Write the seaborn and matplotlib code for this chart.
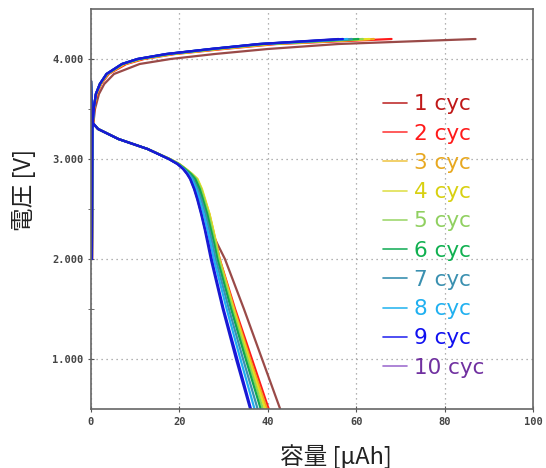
import matplotlib
matplotlib.use("Agg")
import matplotlib.pyplot as plt
from matplotlib.lines import Line2D
import seaborn as sns
import pandas as pd

# cycle labels and colours (line colour / legend text colour)
cycles = ["1 cyc", "2 cyc", "3 cyc", "4 cyc", "5 cyc", "6 cyc", "7 cyc", "8 cyc", "9 cyc", "10 cyc"]
line_colors = ["#9a4a48", "#ff1a1a", "#f0a820", "#e6e020", "#90d850", "#10a850",
               "#3a90b0", "#20b0f0", "#1414e8", "#1a1ad0"]
text_colors = ["#c01818", "#ff1a1a", "#e8a820", "#d8d010", "#90d060", "#10b050",
               "#3a90b0", "#20b0f0", "#1010f0", "#7030a0"]
legend_line_colors = ["#c03030", "#ff4040", "#f0c850", "#e0e050", "#a0d870", "#20b060",
                      "#3a90b0", "#30b8f0", "#3030f0", "#a070d0"]

# charge curves: voltage levels and capacity reached per cycle [uAh]
charge_volt = [2.0, 3.3, 3.5, 3.65, 3.75, 3.85, 3.95, 4.0, 4.05, 4.1, 4.15, 4.2]
charge_cap = [
    [0.3, 0.4, 0.9, 1.8, 3.0, 5.2, 11.0, 18.0, 28.0, 40.0, 56.0, 87.0],
    [0.2, 0.35, 0.7, 1.3, 2.3, 4.0, 8.0, 12.0, 19.0, 30.0, 42.0, 68.0],
    [0.2, 0.3, 0.65, 1.2, 2.2, 3.8, 7.6, 11.5, 18.5, 29.0, 41.0, 64.0],
    [0.2, 0.3, 0.65, 1.2, 2.1, 3.7, 7.4, 11.2, 18.2, 28.5, 40.0, 63.0],
    [0.2, 0.3, 0.6, 1.15, 2.1, 3.6, 7.2, 11.0, 18.0, 28.0, 39.5, 61.5],
    [0.2, 0.3, 0.6, 1.1, 2.0, 3.6, 7.1, 10.8, 17.6, 27.6, 39.0, 60.5],
    [0.2, 0.3, 0.6, 1.1, 2.0, 3.5, 7.0, 10.6, 17.3, 27.3, 38.5, 59.0],
    [0.2, 0.3, 0.6, 1.1, 2.0, 3.5, 7.0, 10.5, 17.1, 27.1, 38.2, 58.0],
    [0.2, 0.3, 0.6, 1.1, 2.0, 3.5, 7.0, 10.5, 17.0, 27.0, 38.0, 57.0],
    [0.2, 0.3, 0.6, 1.1, 2.0, 3.5, 7.0, 10.5, 17.0, 27.0, 38.0, 56.0],
]

# discharge curves: voltage levels and capacity per cycle [uAh]
discharge_volt = [3.78, 3.37, 3.3, 3.2, 3.1, 3.0, 2.95, 2.9, 2.85, 2.8, 2.7,
                  2.6, 2.45, 2.3, 2.15, 2.0, 1.5, 1.0, 0.5]
discharge_cap = [
    [0.0, 0.2, 1.6, 6.2, 12.8, 17.7, 19.8, 21.2, 22.4, 23.5, 24.5, 25.2, 26.2, 27.0, 28.6, 30.3, 34.6, 38.7, 42.8],
    [0.0, 0.2, 1.6, 6.2, 12.8, 17.8, 19.9, 21.4, 22.7, 23.9, 24.9, 25.6, 26.7, 27.5, 28.3, 29.1, 32.6, 36.4, 40.2],
    [0.0, 0.2, 1.6, 6.2, 12.8, 17.8, 19.9, 21.4, 22.8, 24.0, 25.0, 25.7, 26.8, 27.6, 28.4, 29.1, 32.4, 36.0, 39.8],
    [0.0, 0.2, 1.6, 6.2, 12.8, 17.8, 20.0, 21.5, 22.9, 24.1, 25.1, 25.8, 26.8, 27.6, 28.3, 29.0, 32.2, 35.7, 39.4],
    [0.0, 0.2, 1.6, 6.2, 12.8, 17.8, 19.9, 21.4, 22.8, 23.9, 24.9, 25.6, 26.6, 27.4, 28.2, 28.9, 32.0, 35.4, 38.9],
    [0.0, 0.2, 1.6, 6.2, 12.8, 17.7, 19.8, 21.3, 22.6, 23.6, 24.6, 25.3, 26.3, 27.1, 27.9, 28.6, 31.7, 35.0, 38.4],
    [0.0, 0.2, 1.6, 6.2, 12.8, 17.7, 19.7, 21.1, 22.2, 23.1, 24.1, 24.9, 25.9, 26.7, 27.5, 28.2, 31.2, 34.4, 37.7],
    [0.0, 0.2, 1.6, 6.2, 12.8, 17.6, 19.6, 21.0, 22.0, 22.8, 23.8, 24.5, 25.5, 26.3, 27.1, 27.8, 30.7, 33.8, 37.0],
    [0.0, 0.2, 1.6, 6.2, 12.8, 17.6, 19.6, 20.9, 21.8, 22.5, 23.4, 24.1, 25.0, 25.8, 26.6, 27.3, 30.0, 33.1, 36.2],
    [0.0, 0.2, 1.6, 6.2, 12.8, 17.6, 19.5, 20.8, 21.7, 22.4, 23.3, 24.0, 24.9, 25.7, 26.4, 27.1, 29.8, 32.8, 36.0],
]

x_ticks = [0, 20, 40, 60, 80, 100]
y_ticks = [1.0, 2.0, 3.0, 4.0]

rows = []
for i, cyc in enumerate(cycles):
    for c, v in zip(charge_cap[i], charge_volt):
        rows.append((cyc, "charge", c, v))
    for c, v in zip(discharge_cap[i], discharge_volt):
        rows.append((cyc, "discharge", c, v))
df = pd.DataFrame(rows, columns=["cycle", "step", "cap", "volt"])

sns.set_style("white")
plt.rcParams["font.family"] = ["Noto Sans CJK JP", "DejaVu Sans"]

fig = plt.figure(figsize=(5.46, 4.68), dpi=100)
ax = fig.add_axes([91 / 546, 59 / 468, 442 / 546, 400 / 468])

# later cycles drawn on top
for i in range(len(cycles)):
    sub = df[df["cycle"] == cycles[i]]
    sns.lineplot(data=sub, x="cap", y="volt", units="step", estimator=None, sort=False,
                 color=line_colors[i], lw=1.6, ax=ax, legend=False)

ax.set_xlim(0, 100)
ax.set_ylim(0.5, 4.5)
ax.set_xticks(x_ticks)
ax.set_xticklabels([str(t) for t in x_ticks])
ax.set_yticks(y_ticks)
ax.set_yticklabels([f"{t:.3f}" for t in y_ticks])
ax.set_yticks([1.5, 2.5, 3.5], minor=True)
ax.grid(True, which="major", ls=(0, (1, 3)), color="#999999", lw=0.9)
ax.tick_params(axis="both", which="both", direction="inout", length=4, color="#555555",
               labelsize=7.5, labelcolor="#444444", left=True, bottom=True)
for lab in ax.get_xticklabels() + ax.get_yticklabels():
    lab.set_family("DejaVu Sans Mono")
    lab.set_weight("bold")
for sp in ax.spines.values():
    sp.set_color("#666666")
    sp.set_linewidth(1.2)

ax.set_xlabel("容量 [μAh]", fontsize=17, color="#222222")
ax.set_ylabel("電圧 [V]", fontsize=17, color="#222222")
ax.xaxis.set_label_coords(0.555, -0.088)
ax.yaxis.set_label_coords(-0.125, 0.548)

handles = [Line2D([0], [0], color=legend_line_colors[i], lw=1.2) for i in range(len(cycles))]
leg = ax.legend(handles, cycles, loc="upper left", bbox_to_anchor=(364 / 546, 1 - 75 / 468),
                bbox_transform=fig.transFigure, frameon=False,
                prop={"family": "DejaVu Sans", "size": 15.5},
                handlelength=1.1, handletextpad=0.3, labelspacing=0.43,
                labelcolor=text_colors)

fig.savefig("out.png", dpi=100)
